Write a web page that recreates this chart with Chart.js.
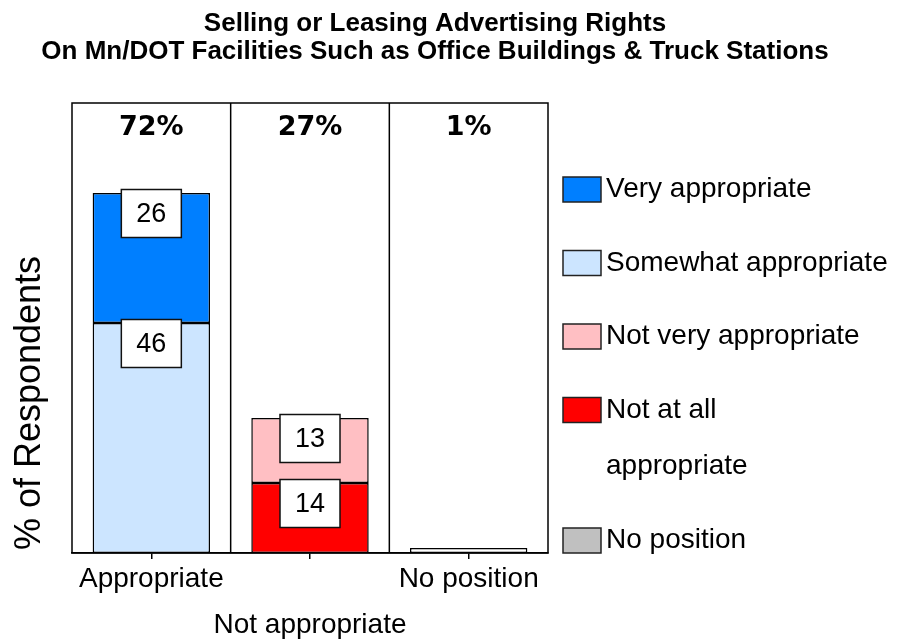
<!DOCTYPE html>
<html>
<head>
<meta charset="utf-8">
<title>Selling or Leasing Advertising Rights</title>
<script src="https://cdn.jsdelivr.net/npm/chart.js@4.4.1/dist/chart.umd.min.js"></script>
<style>
  html, body { margin: 0; padding: 0; background: #fff; }
  #wrap { width: 903px; height: 643px; position: relative; }
</style>
</head>
<body>
<div id="wrap"><canvas id="chart"></canvas></div>
<script>
const TITLE_LINES = [
    'Selling or Leasing Advertising Rights',
    'On Mn/DOT Facilities Such as Office Buildings & Truck Stations',
];
const CATEGORIES = ['Appropriate', 'Not appropriate', 'No position'];

// stacked from the bottom up inside each category
const SOMEWHAT_APPROPRIATE = [46, null, null];
const VERY_APPROPRIATE = [26, null, null];
const NOT_AT_ALL_APPROPRIATE = [null, 14, null];
const NOT_VERY_APPROPRIATE = [null, 13, null];
const NO_POSITION = [null, null, 1];

const Y_MAX = 90;
const Y_TITLE = '% of Respondents';

const LEGEND_LABELS = [
    ['Very appropriate'],
    ['Somewhat appropriate'],
    ['Not very appropriate'],
    ['Not at all', 'appropriate'],
    ['No position'],
];
const LEGEND_COLORS = ['#007FFF', '#CCE5FF', '#FFBFC3', '#FF0000', '#C0C0C0'];

const FONT = '"Liberation Sans", Arial, sans-serif';

function categoryTotals() {
    const series = [SOMEWHAT_APPROPRIATE, VERY_APPROPRIATE, NOT_AT_ALL_APPROPRIATE, NOT_VERY_APPROPRIATE, NO_POSITION];
    return CATEGORIES.map(function (_c, i) {
        return series.reduce(function (sum, s) {
            return sum + (s[i] || 0);
        }, 0);
    });
}

function barDataset(label, data, color, showValue) {
    return {
        label: label,
        data: data,
        backgroundColor: color,
        borderColor: '#000',
        borderWidth: 1.5,
        borderSkipped: false,
        showValue: showValue,
    };
}

const decorations = {
    id: 'decorations',
    beforeDatasetsDraw(chart) {
        const ctx = chart.ctx;
        const area = chart.chartArea;
        const xs = chart.scales.x;
        ctx.save();
        ctx.strokeStyle = '#000';
        ctx.lineWidth = 1.5;
        // separators between the category panels
        for (let i = 0; i < CATEGORIES.length - 1; i += 1) {
            const px = (xs.getPixelForTick(i) + xs.getPixelForTick(i + 1)) / 2;
            ctx.beginPath();
            ctx.moveTo(px, area.top);
            ctx.lineTo(px, area.bottom);
            ctx.stroke();
        }
        ctx.strokeRect(area.left, area.top, area.width, area.height);
        ctx.restore();
    },
    afterDatasetsDraw(chart) {
        const ctx = chart.ctx;
        const area = chart.chartArea;
        const xs = chart.scales.x;
        ctx.save();

        // boxed segment values
        ctx.font = '27px ' + FONT;
        ctx.textAlign = 'center';
        ctx.textBaseline = 'middle';
        chart.data.datasets.forEach(function (ds, di) {
            if (!ds.showValue) {
                return;
            }
            chart.getDatasetMeta(di).data.forEach(function (el, i) {
                const v = ds.data[i];
                if (v === null || v === undefined) {
                    return;
                }
                const top = Math.min(el.y, el.base) - 3.5;
                const w = 60;
                const h = 48;
                ctx.fillStyle = '#fff';
                ctx.fillRect(el.x - w / 2, top, w, h);
                ctx.strokeStyle = '#111';
                ctx.lineWidth = 1.5;
                ctx.strokeRect(el.x - w / 2, top, w, h);
                ctx.fillStyle = '#000';
                ctx.fillText(String(v), el.x, top + h / 2 + 1);
            });
        });

        // category totals along the top of each panel
        ctx.font = 'bold 27px "DejaVu Sans", sans-serif';
        ctx.textBaseline = 'alphabetic';
        ctx.fillStyle = '#000';
        categoryTotals().forEach(function (t, i) {
            ctx.fillText(t + '%', xs.getPixelForValue(i), area.top + 32);
        });
        ctx.restore();
    },
    afterDraw(chart) {
        const ctx = chart.ctx;
        const area = chart.chartArea;
        ctx.save();
        ctx.fillStyle = '#000';

        ctx.font = 'bold 26px ' + FONT;
        ctx.textAlign = 'center';
        ctx.textBaseline = 'alphabetic';
        ctx.fillText(TITLE_LINES[0], 435, 31);
        ctx.fillText(TITLE_LINES[1], 435, 59);

        ctx.save();
        ctx.translate(area.left - 42, area.bottom - 150);
        ctx.rotate(-Math.PI / 2);
        ctx.font = '36px ' + FONT;
        ctx.textBaseline = 'middle';
        ctx.fillText(Y_TITLE, 0, 0);
        ctx.restore();

        // legend column
        const boxX = area.right + 15;
        let rowTop = area.top + 74;
        ctx.font = '28px ' + FONT;
        ctx.textAlign = 'left';
        LEGEND_LABELS.forEach(function (lines, i) {
            ctx.fillStyle = LEGEND_COLORS[i];
            ctx.fillRect(boxX, rowTop, 38, 25);
            ctx.strokeStyle = '#222';
            ctx.lineWidth = 1.5;
            ctx.strokeRect(boxX, rowTop, 38, 25);
            ctx.fillStyle = '#000';
            lines.forEach(function (line, j) {
                ctx.fillText(line, boxX + 43, rowTop + 20 + j * 56);
            });
            rowTop += 73.5 + (lines.length - 1) * 57;
        });
        ctx.restore();
    },
};

new Chart(document.getElementById('chart'), {
    type: 'bar',
    data: {
        labels: CATEGORIES,
        datasets: [
            barDataset('Somewhat appropriate', SOMEWHAT_APPROPRIATE, '#CCE5FF', true),
            barDataset('Very appropriate', VERY_APPROPRIATE, '#007FFF', true),
            barDataset('Not at all appropriate', NOT_AT_ALL_APPROPRIATE, '#FF0000', true),
            barDataset('Not very appropriate', NOT_VERY_APPROPRIATE, '#FFBFC3', true),
            barDataset('No position', NO_POSITION, '#FFFFFF', false),
        ],
    },
    options: {
        responsive: true,
        maintainAspectRatio: false,
        animation: false,
        layout: { padding: { left: 72, top: 103, right: 355, bottom: 0 } },
        datasets: { bar: { categoryPercentage: 1, barPercentage: 0.74 } },
        plugins: {
            legend: { display: false },
            tooltip: { enabled: false },
        },
        scales: {
            x: {
                stacked: true,
                afterFit: function (scale) {
                    scale.height = 90;
                },
                border: { display: true, color: '#000', width: 1.5 },
                grid: {
                    offset: false,
                    drawOnChartArea: false,
                    drawTicks: true,
                    tickLength: 6,
                    color: '#000',
                    lineWidth: 1.5,
                },
                ticks: {
                    autoSkip: false,
                    maxRotation: 0,
                    minRotation: 0,
                    padding: -3,
                    color: '#000',
                    font: { family: FONT, size: 28, lineHeight: 1.66 },
                    callback: function (value, index) {
                        const label = this.getLabelForValue(value);
                        // every other label drops to a second row
                        return index % 2 ? ['', label] : label;
                    },
                },
            },
            y: {
                stacked: true,
                display: false,
                min: 0,
                max: Y_MAX,
            },
        },
    },
    plugins: [decorations],
});
</script>
</body>
</html>
